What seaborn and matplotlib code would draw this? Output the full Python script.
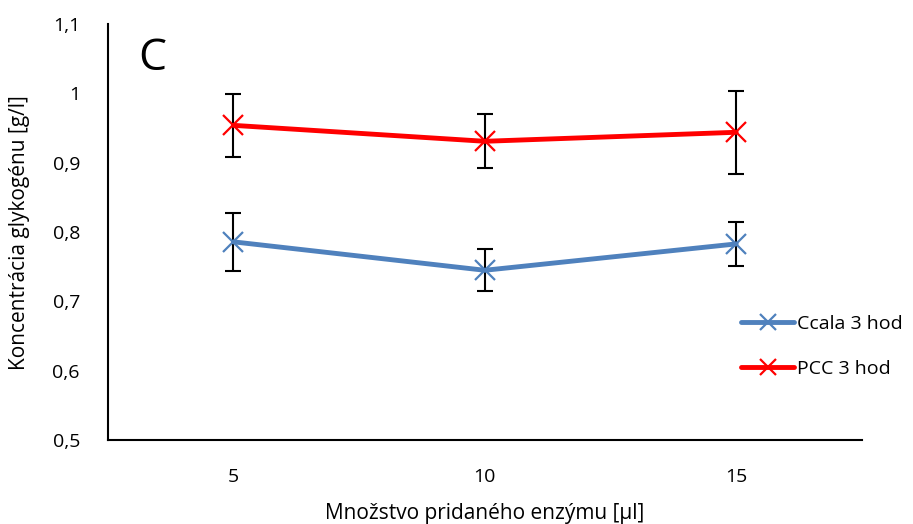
import pandas as pd
import numpy as np
import matplotlib.pyplot as plt
import seaborn as sns
from matplotlib.ticker import FuncFormatter, MultipleLocator

# data
enzyme = ['5', '10', '15']
ccala_mean = [0.786, 0.745, 0.783]
ccala_err = [0.042, 0.030, 0.032]
pcc_mean = [0.954, 0.931, 0.944]
pcc_err = [0.045, 0.039, 0.060]
series_names = ['Ccala 3 hod', 'PCC 3 hod']
colors = ['#4F81BD', '#FF0000']

df = pd.DataFrame({
  'enzym': enzyme * 2,
  'val': ccala_mean + pcc_mean,
  'serie': [series_names[0]] * 3 + [series_names[1]] * 3,
})

sns.set_style('white')
plt.rcParams['font.family'] = ['Open Sans', 'DejaVu Sans']
plt.rcParams.update({'text.color': 'black', 'axes.labelcolor': 'black',
           'xtick.color': 'black', 'ytick.color': 'black'})

fig = plt.figure(figsize=(9.13, 5.24), dpi=100)
ax = fig.add_axes([0.118, 0.160, 0.826, 0.794])

sns.lineplot(data=df, x='enzym', y='val', hue='serie', palette=colors,
       marker='x', markersize=15, markeredgewidth=1.6, linewidth=3.5,
       ax=ax, zorder=3, legend=True)

# seaborn gives the markers a white edge -> colour them like the line
for line in ax.get_lines():
  line.set_markeredgecolor(line.get_color())

# error bars (black, behind the lines)
for means, errs in [(ccala_mean, ccala_err), (pcc_mean, pcc_err)]:
  ax.errorbar(enzyme, means, yerr=errs, fmt='none', ecolor='black',
        elinewidth=1.5, capsize=6, capthick=1.5, zorder=2)

sns.move_legend(ax, loc='center left', bbox_to_anchor=(0.817, 0.225), frameon=False,
        title=None, fontsize=14, handlelength=2.7, labelspacing=1.4,
        handletextpad=0.15)
leg = ax.get_legend()
for h in leg.legend_handles:
  h.set_markeredgecolor(h.get_color())
  h.set_markersize(12)

ax.set_xlim(-0.5, 2.5)
ax.set_ylim(0.5, 1.1)
ax.yaxis.set_major_locator(MultipleLocator(0.1))
ax.yaxis.set_major_formatter(FuncFormatter(lambda v, p: f"{round(v, 2):g}".replace('.', ',')))

for s in ['top', 'right']:
  ax.spines[s].set_visible(False)
for s in ['left', 'bottom']:
  ax.spines[s].set_color('black')
  ax.spines[s].set_linewidth(1.5)
ax.tick_params(axis='x', length=0, labelsize=14, pad=20)
ax.tick_params(axis='y', length=0, labelsize=14, pad=20)

ax.set_xlabel('Množstvo pridaného enzýmu [µl]', fontsize=15, labelpad=12)
ax.set_ylabel('Koncentrácia glykogénu [g/l]', fontsize=15, labelpad=16)

ax.text(0.04, 0.97, 'C', transform=ax.transAxes, fontsize=32, va='top', ha='left')

fig.savefig('out.png', dpi=100)
